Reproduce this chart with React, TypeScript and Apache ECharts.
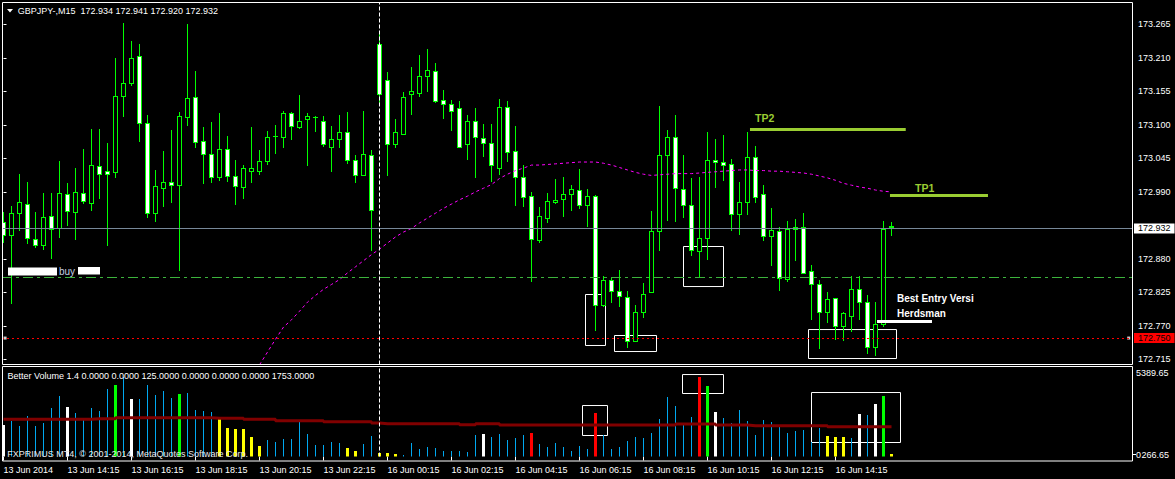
import React, { useEffect, useRef } from "react";
import * as echarts from "echarts";

const FONT = "'Liberation Sans', Arial, sans-serif";

// ---- Price candles (GBPJPY-, M15), bar 0 = 13 Jun 12:15 ----
const opens = [
  172.941, 172.920, 172.955, 172.970, 172.913, 172.902, 172.951, 172.930, 172.986, 172.957,
  172.988, 172.972, 173.032, 173.024, 173.022, 173.148, 173.168, 173.213, 173.103, 172.955,
  172.996, 173.006, 173.001, 173.113, 173.145, 173.073, 173.053, 173.014, 173.060, 173.016,
  172.998, 173.025, 173.025, 173.041, 173.082, 173.080, 173.119, 173.097, 173.109, 173.113,
  173.106, 173.064, 173.076, 173.088, 173.042, 173.017, 173.050, 173.232, 173.173, 173.068,
  173.085, 173.150, 173.152, 173.180, 173.189, 173.141, 173.135, 173.127, 173.069, 173.107,
  173.079, 173.070, 173.030, 173.129, 173.057, 173.014, 172.983, 172.911, 172.947, 172.974,
  172.978, 172.986, 172.993, 172.968, 172.983, 172.804, 172.845, 172.828, 172.817, 172.746,
  172.792, 172.825, 172.925, 173.050, 173.080, 172.995, 172.968, 172.893, 172.914, 173.042,
  173.039, 173.035, 172.953, 172.974, 173.047, 172.986, 172.917, 172.925, 172.847, 172.929,
  172.932, 172.860, 172.838, 172.793, 172.815, 172.769, 172.787, 172.830, 172.809, 172.736,
  172.773, 172.934,
];
const highs = [
  172.957, 172.966, 173.020, 173.006, 172.957, 172.988, 172.988, 173.041, 173.004, 173.029,
  173.060, 173.093, 173.093, 173.070, 173.209, 173.268, 173.238, 173.233, 173.116, 173.026,
  173.057, 173.092, 173.121, 173.266, 173.188, 173.096, 173.105, 173.119, 173.082, 173.042,
  173.034, 173.096, 173.059, 173.090, 173.100, 173.123, 173.121, 173.149, 173.119, 173.114,
  173.114, 173.098, 173.116, 173.121, 173.050, 173.123, 173.059, 173.250, 173.187, 173.110,
  173.154, 173.195, 173.215, 173.225, 173.202, 173.157, 173.141, 173.139, 173.116, 173.128,
  173.101, 173.101, 173.142, 173.139, 173.098, 173.034, 172.990, 172.965, 172.988, 173.011,
  173.014, 173.001, 173.028, 172.994, 172.985, 172.852, 172.851, 172.862, 172.827, 172.804,
  172.840, 172.959, 173.131, 173.092, 173.116, 173.051, 173.012, 173.014, 173.088, 173.077,
  173.083, 173.044, 173.006, 173.088, 173.065, 173.001, 172.964, 172.933, 172.942, 172.945,
  172.955, 172.870, 172.846, 172.826, 172.816, 172.793, 172.852, 172.852, 172.821, 172.809,
  172.942, 172.941,
];
const lows = [
  172.908, 172.807, 172.927, 172.906, 172.900, 172.896, 172.882, 172.916, 172.936, 172.913,
  172.972, 172.960, 172.980, 172.903, 173.015, 173.115, 173.165, 173.074, 172.949, 172.943,
  172.967, 172.973, 172.861, 173.099, 173.063, 173.005, 173.007, 173.009, 173.008, 172.970,
  172.980, 173.007, 173.020, 173.035, 173.054, 173.063, 173.077, 173.095, 173.034, 173.090,
  173.066, 173.025, 173.064, 173.037, 173.007, 173.017, 172.895, 173.136, 173.018, 173.064,
  173.085, 173.118, 173.148, 173.156, 173.138, 173.112, 173.092, 173.063, 173.044, 173.015,
  173.049, 173.008, 173.020, 173.041, 172.969, 172.967, 172.843, 172.908, 172.941, 172.972,
  172.951, 172.961, 172.964, 172.934, 172.764, 172.803, 172.810, 172.803, 172.735, 172.745,
  172.785, 172.825, 172.895, 172.944, 172.942, 172.949, 172.886, 172.850, 172.880, 172.998,
  173.009, 172.927, 172.921, 172.954, 172.973, 172.911, 172.870, 172.829, 172.843, 172.878,
  172.856, 172.782, 172.733, 172.777, 172.748, 172.747, 172.762, 172.782, 172.726, 172.722,
  172.769, 172.920,
];
const closes = [
  172.919, 172.956, 172.973, 172.914, 172.902, 172.949, 172.929, 172.988, 172.959, 172.989,
  172.975, 173.034, 173.020, 173.020, 173.147, 173.168, 173.209, 173.103, 172.955, 172.999,
  173.006, 173.001, 173.114, 173.144, 173.072, 173.053, 173.014, 173.060, 173.016, 173.000,
  173.029, 173.029, 173.040, 173.080, 173.081, 173.119, 173.098, 173.106, 173.114, 173.113,
  173.068, 173.076, 173.088, 173.042, 173.017, 173.053, 172.961, 173.150, 173.068, 173.089,
  173.145, 173.155, 173.180, 173.190, 173.140, 173.135, 173.123, 173.064, 173.107, 173.080,
  173.071, 173.034, 173.130, 173.055, 173.014, 172.981, 172.912, 172.950, 172.975, 172.977,
  172.986, 172.994, 172.969, 172.983, 172.804, 172.846, 172.827, 172.819, 172.746, 172.792,
  172.823, 172.925, 173.050, 173.080, 172.996, 172.968, 172.894, 172.914, 173.042, 173.039,
  173.034, 172.953, 172.973, 173.047, 172.982, 172.918, 172.927, 172.848, 172.929, 172.932,
  172.857, 172.838, 172.792, 172.814, 172.769, 172.791, 172.830, 172.809, 172.736, 172.773,
  172.929, 172.932,
];

// Moving average (magenta), starting at bar 32
const MA_START = 32;
const maValues = [
  172.706, 172.727, 172.748, 172.768, 172.780, 172.794, 172.809, 172.820, 172.830, 172.838,
  172.846, 172.857, 172.867, 172.877, 172.887, 172.896, 172.906, 172.916, 172.924, 172.930,
  172.939, 172.947, 172.955, 172.963, 172.970, 172.977, 172.983, 172.990, 172.996, 173.002,
  173.012, 173.019, 173.025, 173.029, 173.034, 173.034, 173.035, 173.036, 173.037, 173.038,
  173.039, 173.039, 173.039, 173.037, 173.034, 173.030, 173.026, 173.022, 173.019, 173.017,
  173.018, 173.019, 173.020, 173.020, 173.020, 173.021, 173.022, 173.023, 173.024, 173.025,
  173.026, 173.026, 173.025, 173.025, 173.024, 173.024, 173.023, 173.022, 173.021, 173.019,
  173.016, 173.013, 173.009, 173.004, 173.001, 172.998, 172.996, 172.993, 172.991, 172.990,
];

// ---- Better Volume 1.4 ----
const volumes = [
  1896, 2137, 1836, 2438, 1836, 2035, 2938, 3642, 2980, 2637,
  2336, 2938, 2739, 4064, 4304, 4804, 3462, 3462, 4304, 3702,
  3943, 3540, 3763, 3841, 2799, 2739, 2697, 2396, 1734, 1656,
  1656, 1192, 650, 993, 891, 1054, 1054, 2095, 1355, 692,
  692, 873, 813, 512, 331, 753, 1234, 211, 211, 151,
  90, 813, 452, 572, 512, 331, 331, 331, 271, 1294,
  1355, 1174, 1355, 993, 1114, 1294, 1415, 753, 572, 813,
  572, 331, 632, 452, 2619, 1294, 452, 572, 933, 1174,
  1114, 1415, 2258, 3582, 3040, 1896, 2378, 4786, 4244, 2679,
  2318, 2017, 2799, 2137, 1294, 2197, 2077, 1836, 1415, 1535,
  1595, 873, 1716, 1234, 1174, 1174, 1114, 2559, 2498, 3161,
  3642, 151,
];
// B = normal, W = climax, G = high churn, Y = low volume, R = climax down
const volumeTypes = (
  "WBBBBBBBWB" + "BBBBGBWBBB" + "BBGBBBBYYY" + "YYYBBBBBBB" + "BBBYYBBYYY" +
  "BBBBBBBBBB" + "WBBBBBRBBB" + "BBBBRBBBBB" + "BBBBBBBRGW" + "BBBBBBBBBB" +
  "BBBYYYBWBW" + "GY"
).split("");
const volumeAverage = [
  2239, 2239, 2239, 2239, 2239, 2239, 2239, 2239, 2239, 2239,
  2239, 2276, 2276, 2276, 2336, 2336, 2336, 2336, 2336, 2336,
  2336, 2336, 2336, 2336, 2336, 2336, 2300, 2300, 2300, 2300,
  2239, 2239, 2239, 2239, 2155, 2155, 2155, 2155, 2155, 2155,
  2095, 2095, 2095, 2095, 2095, 2095, 2017, 1975, 1975, 1975,
  1975, 1975, 1975, 1975, 1975, 1975, 1975, 1914, 1914, 1975,
  1975, 1975, 1896, 1896, 1896, 1896, 1896, 1896, 1896, 1896,
  1896, 1896, 1896, 1896, 1896, 1896, 1896, 1896, 1896, 1896,
  1896, 1896, 1896, 1896, 1957, 1957, 1957, 1957, 1957, 1896,
  1896, 1896, 1896, 1854, 1854, 1854, 1854, 1854, 1854, 1854,
  1854, 1854, 1854, 1794, 1794, 1794, 1794, 1794, 1794, 1794,
  1794, 1794,
];
const VOLUME_MAX = 5389.65;

// ---- Axis labels ----
const timeLabelIndex = [0, 8, 16, 24, 32, 40, 48, 56, 64, 72, 80, 88, 96, 104];
const timeLabels = [
  "13 Jun 2014", "13 Jun 14:15", "13 Jun 16:15", "13 Jun 18:15", "13 Jun 20:15",
  "13 Jun 22:15", "16 Jun 00:15", "16 Jun 02:15", "16 Jun 04:15", "16 Jun 06:15",
  "16 Jun 08:15", "16 Jun 10:15", "16 Jun 12:15", "16 Jun 14:15",
];
const priceTicks = [
  172.715, 172.77, 172.825, 172.88, 172.99, 173.045, 173.1, 173.155, 173.21, 173.265,
];

// ---- Levels / annotations ----
const BID = 172.932;
const PENDING = 172.75;
const BUY_LEVEL = 172.851;
const SEPARATOR_BAR = 47;
const TP2 = { price: 173.0924, from: 93.31, to: 112.78 };
const TP1 = { price: 172.9844, from: 110.81, to: 123.06 };
const ENTRY = { price: 172.7775, from: 109.19, to: 116.06 };
const priceBoxes = [
  [72.75, 172.8215, 75.25, 172.7378],
  [76.375, 172.7542, 81.625, 172.7279],
  [85.0, 172.9003, 90.0, 172.8346],
  [100.625, 172.764, 111.625, 172.7164],
];
const volumeBoxes = [
  [72.375, 3070, 75.5, 1264],
  [84.875, 4936, 90.0, 3793],
  [101.0, 3853, 112.125, 843],
];

const X_MIN = -0.1875;
const X_MAX = 141.1875;
const Y_MIN = 172.7066;
const Y_MAX = 173.3009;

const GREEN = "#00ff00";
const VOL_COLORS: Record<string, string> = {
  B: "#00a8f0",
  W: "#ffffff",
  G: "#00ff00",
  Y: "#ffff00",
  R: "#ff0000",
};

function fillRect(x: number, y: number, w: number, h: number, color: string) {
  return {
    type: "rect",
    shape: { x, y, width: w, height: Math.max(h, 0) },
    style: { fill: color, stroke: "none", lineWidth: 0, opacity: 1 },
  };
}

function renderCandle(params: any, api: any) {
  const i = api.value(0);
  const o = api.value(1);
  const c = api.value(2);
  const l = api.value(3);
  const h = api.value(4);
  const po = api.coord([i, o]);
  const pc = api.coord([i, c]);
  const ph = api.coord([i, h]);
  const pl = api.coord([i, l]);
  const col = Math.floor(po[0]);
  const rT = Math.round(Math.min(po[1], pc[1]));
  const rB = Math.round(Math.max(po[1], pc[1]));
  const rH = Math.round(ph[1]);
  const rL = Math.round(pl[1]);
  const bear = c < o;
  const children: any[] = [
    fillRect(col, rH, 1, rL - rH + 1, GREEN),
    fillRect(col - 2, rT, 5, rB - rT + 1, GREEN),
  ];
  if (rB - rT >= 2) {
    children.push(fillRect(col - 1, rT + 1, 3, rB - rT - 1, bear ? "#ffffff" : "#000000"));
  }
  return { type: "group", children };
}

function renderVolume(params: any, api: any) {
  const i = api.value(0);
  const v = api.value(1);
  const t = volumeTypes[params.dataIndex] || "B";
  const top = api.coord([i, v]);
  const base = api.coord([i, 0]);
  const col = Math.floor(top[0]);
  const w = t === "B" ? 1 : 3;
  const y0 = Math.round(top[1]);
  return fillRect(col - (w - 1) / 2, y0, w, Math.round(base[1]) - y0, VOL_COLORS[t]);
}

export default function App() {
  const ref = useRef<HTMLDivElement>(null);

  useEffect(() => {
    if (!ref.current) return;
    const chart = echarts.init(ref.current, null, { renderer: "svg" });

    const candleData = opens.map((o, i) => [i, o, closes[i], lows[i], highs[i]]);
    const maData = maValues.map((v, k) => [MA_START + k, v]);
    const volData = volumes.map((v, i) => [i, v]);
    const volAvgData = volumeAverage.map((v, i) => [i, v]);

    const labelStyle = { fontFamily: FONT, fontSize: 9, color: "#ffffff" };
    const txt = (x: number, y: number, text: string, fill: string, font: string) => ({
      type: "text",
      silent: true,
      z: 100,
      x,
      y,
      style: { text, fill, font, verticalAlign: "middle" },
    });

    const option: any = {
      animation: false,
      backgroundColor: "#000000",
      textStyle: { fontFamily: FONT },
      grid: [
        { left: 2, top: 2.5, width: 1131, height: 362 },
        { left: 2, top: 367, width: 1131, height: 89.5 },
      ],
      xAxis: [
        { type: "value", gridIndex: 0, min: X_MIN, max: X_MAX, show: false },
        {
          type: "value",
          gridIndex: 1,
          min: X_MIN,
          max: X_MAX,
          position: "bottom",
          offset: 4.5,
          axisLine: { show: false },
          splitLine: { show: false },
          axisTick: {
            show: true,
            inside: false,
            length: 4,
            customValues: timeLabelIndex,
            lineStyle: { color: "#ffffff", width: 1 },
          },
          axisLabel: {
            ...labelStyle,
            customValues: timeLabelIndex,
            align: "left",
            margin: 4,
            formatter: (v: number) => {
              const k = timeLabelIndex.indexOf(Math.round(v));
              return k >= 0 ? timeLabels[k] : "";
            },
          },
        },
      ],
      yAxis: [
        {
          type: "value",
          gridIndex: 0,
          position: "right",
          min: Y_MIN,
          max: Y_MAX,
          splitLine: { show: false },
          axisLine: { show: false },
          axisTick: {
            show: true,
            inside: false,
            length: 3,
            customValues: priceTicks,
            lineStyle: { color: "#ffffff", width: 1 },
          },
          axisLabel: {
            ...labelStyle,
            customValues: priceTicks,
            margin: 5,
            formatter: (v: number) => v.toFixed(3),
          },
        },
        { type: "value", gridIndex: 1, min: 0, max: VOLUME_MAX, show: false },
      ],
      series: [
        {
          type: "custom",
          name: "GBPJPY-,M15",
          xAxisIndex: 0,
          yAxisIndex: 0,
          renderItem: renderCandle,
          data: candleData,
          encode: { x: 0, y: [1, 2, 3, 4] },
          clip: true,
          z: 2,
          silent: true,
        },
        {
          type: "line",
          name: "MA",
          xAxisIndex: 0,
          yAxisIndex: 0,
          data: maData,
          showSymbol: false,
          symbol: "none",
          clip: true,
          silent: true,
          lineStyle: { color: "#ff00ff", width: 1, type: [3, 3] },
          z: 3,
          markLine: {
            silent: true,
            symbol: ["none", "none"],
            animation: false,
            data: [
              {
                yAxis: BID,
                lineStyle: { color: "#778899", width: 1, type: "solid" },
                label: {
                  show: true,
                  position: "end",
                  distance: 1,
                  formatter: () => BID.toFixed(3),
                  backgroundColor: "#ffffff",
                  color: "#000000",
                  fontFamily: FONT,
                  fontSize: 9,
                  lineHeight: 9,
                  padding: [1, 4, 0, 4],
                },
              },
              {
                yAxis: BUY_LEVEL,
                lineStyle: { color: "#3cb43c", width: 1, type: [10, 4, 3, 4] },
                label: { show: false },
              },
              {
                yAxis: PENDING,
                lineStyle: { color: "#ff0000", width: 1, type: [2, 3] },
                label: {
                  show: true,
                  position: "end",
                  distance: 1,
                  formatter: () => PENDING.toFixed(3),
                  backgroundColor: "#ff0000",
                  color: "#000000",
                  fontFamily: FONT,
                  fontSize: 9,
                  lineHeight: 9,
                  padding: [1, 4, 0, 4],
                },
              },
              {
                xAxis: SEPARATOR_BAR,
                lineStyle: { color: "#ffffff", width: 1, type: [4, 2] },
                label: { show: false },
              },
              [
                {
                  coord: [TP2.from, TP2.price],
                  lineStyle: { color: "#9acd32", width: 3, type: "solid" },
                  label: { show: false },
                },
                { coord: [TP2.to, TP2.price] },
              ],
              [
                {
                  coord: [TP1.from, TP1.price],
                  lineStyle: { color: "#9acd32", width: 3, type: "solid" },
                  label: { show: false },
                },
                { coord: [TP1.to, TP1.price] },
              ],
              [
                {
                  coord: [ENTRY.from, ENTRY.price],
                  lineStyle: { color: "#ffffff", width: 3, type: "solid" },
                  label: { show: false },
                },
                { coord: [ENTRY.to, ENTRY.price] },
              ],
            ],
          },
          markArea: {
            silent: true,
            itemStyle: { color: "rgba(0,0,0,0)", borderColor: "#ffffff", borderWidth: 1 },
            data: priceBoxes.map((b) => [{ coord: [b[0], b[1]] }, { coord: [b[2], b[3]] }]),
          },
        },
        {
          type: "scatter",
          xAxisIndex: 0,
          yAxisIndex: 0,
          data: [
            [0.2, PENDING],
            [140.65, PENDING],
          ],
          symbol: "rect",
          symbolSize: 3,
          itemStyle: { color: "#ffffff" },
          silent: true,
          z: 4,
        },
        {
          type: "custom",
          name: "Better Volume",
          xAxisIndex: 1,
          yAxisIndex: 1,
          renderItem: renderVolume,
          data: volData,
          encode: { x: 0, y: 1 },
          clip: true,
          silent: true,
          z: 2,
        },
        {
          type: "line",
          name: "Volume average",
          xAxisIndex: 1,
          yAxisIndex: 1,
          data: volAvgData,
          step: "end",
          showSymbol: false,
          symbol: "none",
          silent: true,
          lineStyle: { color: "#800000", width: 3 },
          z: 3,
          markLine: {
            silent: true,
            symbol: ["none", "none"],
            animation: false,
            data: [
              {
                xAxis: SEPARATOR_BAR,
                lineStyle: { color: "#ffffff", width: 1, type: [4, 2] },
                label: { show: false },
              },
            ],
          },
          markArea: {
            silent: true,
            itemStyle: { color: "rgba(0,0,0,0)", borderColor: "#ffffff", borderWidth: 1 },
            data: volumeBoxes.map((b) => [{ coord: [b[0], b[1]] }, { coord: [b[2], b[3]] }]),
          },
        },
      ],
      graphic: [
        {
          type: "rect",
          silent: true,
          z: 100,
          shape: { x: 2.5, y: 2.5, width: 1130, height: 362 },
          style: { fill: "none", stroke: "#ffffff", lineWidth: 1 },
        },
        {
          type: "rect",
          silent: true,
          z: 100,
          shape: { x: 2.5, y: 366.5, width: 1130, height: 94.5 },
          style: { fill: "none", stroke: "#ffffff", lineWidth: 1 },
        },
        {
          type: "polygon",
          silent: true,
          z: 100,
          shape: { points: [[7, 9], [13, 9], [10, 12.5]] },
          style: { fill: "#ffffff" },
        },
        txt(17.7, 10.5, "GBPJPY-,M15  172.934 172.941 172.920 172.932", "#ffffff", `9px ${FONT}`),
        txt(
          7.5,
          376,
          "Better Volume 1.4 0.0000 0.0000 125.0000 0.0000 0.0000 0.0000 1753.0000",
          "#ffffff",
          `9px ${FONT}`
        ),
        txt(
          7.3,
          453.5,
          "FXPRIMUS MT4, \u00a9 2001-2014, MetaQuotes Software Corp.",
          "#e8e8e8",
          `9px ${FONT}`
        ),
        {
          type: "rect",
          silent: true,
          z: 100,
          shape: { x: 8, y: 267.5, width: 49, height: 8 },
          style: { fill: "#ffffff" },
        },
        {
          type: "rect",
          silent: true,
          z: 100,
          shape: { x: 78, y: 267, width: 22, height: 7.5 },
          style: { fill: "#ffffff" },
        },
        txt(59, 271.5, "buy", "#c4d0e4", `10px ${FONT}`),
        txt(755, 118, "TP2", "#9acd32", `bold 10.5px ${FONT}`),
        txt(915, 187.5, "TP1", "#9acd32", `bold 10.5px ${FONT}`),
        txt(897, 298, "Best Entry Versi", "#ffffff", `bold 10px ${FONT}`),
        txt(897, 313, "Herdsman", "#ffffff", `bold 10px ${FONT}`),
        txt(1136, 373, "5389.65", "#ffffff", `9px ${FONT}`),
        txt(1136, 454.5, "0", "#ffffff", `9px ${FONT}`),
        txt(1141.5, 454.5, "266.65", "#ffffff", `9px ${FONT}`),
        {
          type: "line",
          silent: true,
          z: 100,
          shape: { x1: 1133, y1: 454.5, x2: 1136, y2: 454.5 },
          style: { stroke: "#ffffff", lineWidth: 1 },
        },
      ],
    };

    chart.setOption(option);
    return () => {
      chart.dispose();
    };
  }, []);

  return (
    <div
      style={{
        position: "fixed",
        left: 0,
        top: 0,
        width: 1175,
        height: 479,
        background: "#000000",
      }}
    >
      <div ref={ref} style={{ width: 1175, height: 479 }} />
    </div>
  );
}
